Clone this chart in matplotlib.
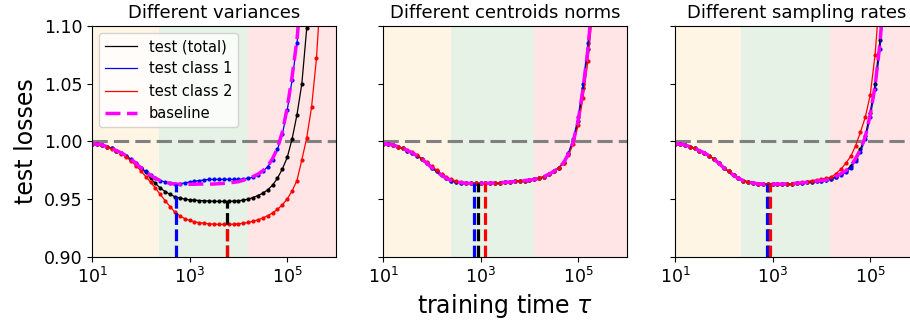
import matplotlib
matplotlib.use('Agg')
import matplotlib.pyplot as plt
import numpy as np

# program variables ------------------>
# log10 of training time grid (0.1 decade steps)
log_tau = [1.0, 1.1, 1.2, 1.3, 1.4, 1.5, 1.6, 1.7, 1.8, 1.9,
           2.0, 2.1, 2.2, 2.3, 2.4, 2.5, 2.6, 2.7, 2.8, 2.9,
           3.0, 3.1, 3.2, 3.3, 3.4, 3.5, 3.6, 3.7, 3.8, 3.9,
           4.0, 4.1, 4.2, 4.3, 4.4, 4.5, 4.6, 4.7, 4.8, 4.9,
           5.0, 5.1, 5.2, 5.3, 5.4, 5.5, 5.6, 5.7, 5.8]

titles = ['Different variances', 'Different centroids norms', 'Different sampling rates']

# shared early descent (log tau 1.0 .. 2.5)
early = [0.998, 0.9975, 0.997, 0.9955, 0.994, 0.992, 0.990, 0.9875, 0.9845, 0.981,
         0.977, 0.974, 0.9705, 0.968, 0.966, 0.9648]

# panel 1: different variances
var_total = [0.998, 0.9975, 0.997, 0.9955, 0.994, 0.992, 0.990, 0.9873, 0.984, 0.9805,
             0.977, 0.9735, 0.968, 0.9635, 0.9595, 0.9565, 0.954, 0.952, 0.9508, 0.950,
             0.9493, 0.949, 0.9487, 0.9485, 0.9483, 0.948, 0.948, 0.948, 0.948, 0.9482,
             0.9485, 0.949, 0.950, 0.9513, 0.953, 0.955, 0.958, 0.962, 0.968, 0.976,
             0.986, 1.002, 1.023, 1.05, 1.098, 1.17]
var_class1 = early + [0.9635, 0.963, 0.9632, 0.964, 0.9647, 0.9655, 0.966, 0.9665, 0.967, 0.967,
                      0.967, 0.967, 0.967, 0.967, 0.967, 0.9675, 0.968, 0.969, 0.971, 0.974,
                      0.978, 0.984, 0.993, 1.006, 1.027, 1.053, 1.085, 1.13]
var_class2 = [0.998, 0.9973, 0.9965, 0.995, 0.9935, 0.9915, 0.9893, 0.9865, 0.983, 0.979,
              0.9745, 0.9695, 0.9645, 0.9595, 0.954, 0.9485, 0.9435, 0.9385, 0.9355, 0.933,
              0.9315, 0.9303, 0.9295, 0.929, 0.9285, 0.9282, 0.928, 0.928, 0.928, 0.9282,
              0.9285, 0.929, 0.9297, 0.9307, 0.932, 0.9335, 0.9355, 0.938, 0.941, 0.945,
              0.950, 0.957, 0.966, 0.984, 1.003, 1.03, 1.072, 1.14]
var_baseline = early + [0.9635, 0.963, 0.9628, 0.9628, 0.9628, 0.9628, 0.963, 0.963, 0.963, 0.963,
                        0.9633, 0.9636, 0.964, 0.9645, 0.965, 0.9663, 0.968, 0.9695, 0.9715, 0.9745,
                        0.9785, 0.985, 0.994, 1.008, 1.029, 1.056, 1.088, 1.135]

# panel 2: different centroids norms
norm_total = early + [0.9642, 0.9637, 0.9635, 0.9635, 0.9635, 0.9636, 0.9638, 0.964, 0.9642, 0.9645,
                      0.9648, 0.9652, 0.9656, 0.966, 0.9665, 0.967, 0.968, 0.9695, 0.9715, 0.974,
                      0.977, 0.9815, 0.989, 1.0, 1.018, 1.046, 1.08, 1.13]
norm_class1 = early + [0.9642, 0.9637, 0.9635, 0.9635, 0.9635, 0.9636, 0.9638, 0.964, 0.9642, 0.9645,
                       0.9648, 0.9652, 0.9656, 0.966, 0.9665, 0.967, 0.968, 0.9695, 0.9715, 0.974,
                       0.977, 0.982, 0.990, 1.002, 1.021, 1.05, 1.085, 1.14]
norm_class2 = [0.998, 0.9975, 0.997, 0.9955, 0.994, 0.9922, 0.9905, 0.988, 0.985, 0.9818,
               0.9785, 0.975, 0.9715, 0.969, 0.967, 0.9655, 0.9645, 0.964, 0.9637, 0.9636,
               0.9635, 0.9635, 0.9638, 0.964, 0.9642, 0.9645, 0.9648, 0.9652, 0.9656, 0.966,
               0.9665, 0.967, 0.968, 0.9695, 0.9715, 0.974, 0.9768, 0.981, 0.988, 0.998,
               1.014, 1.038, 1.07, 1.115, 1.18]
norm_baseline = early + [0.9642, 0.9637, 0.9635, 0.9635, 0.9635, 0.9636, 0.9638, 0.964, 0.9642, 0.9645,
                         0.9648, 0.9652, 0.9656, 0.966, 0.9665, 0.967, 0.968, 0.9695, 0.9715, 0.974,
                         0.977, 0.9815, 0.989, 1.0, 1.018, 1.046, 1.08, 1.13]

# panel 3: different sampling rates
rate_total = early + [0.9638, 0.9633, 0.963, 0.963, 0.963, 0.963, 0.963, 0.9632, 0.9634, 0.9637,
                      0.964, 0.9645, 0.965, 0.9655, 0.966, 0.9665, 0.9675, 0.9695, 0.972, 0.9745,
                      0.9785, 0.985, 0.993, 1.005, 1.025, 1.05, 1.088, 1.14]
rate_class1 = early + [0.9638, 0.9633, 0.963, 0.963, 0.963, 0.963, 0.963, 0.9632, 0.9634, 0.9637,
                       0.964, 0.9645, 0.965, 0.9655, 0.966, 0.9665, 0.967, 0.969, 0.971, 0.973,
                       0.977, 0.983, 0.991, 1.002, 1.021, 1.045, 1.08, 1.13]
rate_class2 = early + [0.9638, 0.9633, 0.963, 0.963, 0.963, 0.963, 0.963, 0.9632, 0.9634, 0.9637,
                       0.9645, 0.965, 0.966, 0.9665, 0.9675, 0.968, 0.969, 0.972, 0.976, 0.981,
                       0.987, 0.996, 1.008, 1.021, 1.04, 1.075, 1.13]
rate_baseline = early + [0.9638, 0.9633, 0.963, 0.963, 0.963, 0.963, 0.963, 0.9632, 0.9634, 0.9637,
                         0.964, 0.9645, 0.965, 0.9655, 0.966, 0.9665, 0.9675, 0.9695, 0.972, 0.9745,
                         0.9785, 0.985, 0.993, 1.004, 1.023, 1.048, 1.085, 1.14]

# optimal stopping times (log10 tau) and minimal losses: total, class 1, class 2
var_stop = [3.76, 2.73, 3.76]
var_min = [0.948, 0.963, 0.928]
norm_stop = [2.95, 2.86, 3.10]
norm_min = [0.9635, 0.9635, 0.9635]
rate_stop = [2.90, 2.88, 2.94]
rate_min = [0.963, 0.963, 0.963]

# training phase boundaries (log10 tau)
phase_edges = [[2.38, 4.20], [2.40, 4.09], [2.36, 4.18]]

panels = [
    (var_total, var_class1, var_class2, var_baseline, var_stop, var_min),
    (norm_total, norm_class1, norm_class2, norm_baseline, norm_stop, norm_min),
    (rate_total, rate_class1, rate_class2, rate_baseline, rate_stop, rate_min),
]

# program execution ------------------>
tau = 10 ** np.array(log_tau)
fig = plt.figure(figsize=(9.1, 3.27), dpi=100)
W, H = 910, 327
lefts = [92, 383, 675]
axes = []
for l in lefts:
    ax = fig.add_axes([l / W, 1 - 256.7 / H, 244 / W, 230.7 / H],
                      sharey=axes[0] if axes else None)
    axes.append(ax)

colors = ['black', 'blue', 'red']
labels = ['test (total)', 'test class 1', 'test class 2']

for i, ax in enumerate(axes):
    total, c1, c2, base, stop, mins = panels[i]
    e0, e1 = phase_edges[i]
    # shaded phases
    ax.axvspan(10, 10 ** e0, color='orange', alpha=0.1, lw=0)
    ax.axvspan(10 ** e0, 10 ** e1, color='green', alpha=0.1, lw=0)
    ax.axvspan(10 ** e1, 1e6, color='red', alpha=0.1, lw=0)
    ax.axhline(1.0, color='gray', ls=(0, (5, 2)), lw=2.2)
    # curves with points
    for y, c, lab in zip([total, c1, c2], colors, labels):
        ax.plot(tau[:len(y)], y, color=c, lw=0.9, label=lab)
        ax.plot(tau[:len(y)], y, 'o', color=c, ms=2)
    ax.plot(tau[:len(base)], base, color='magenta', ls=(0, (4.3, 1.9)), lw=2.5, label='baseline')
    # optimal stopping lines
    for s, m, c in zip(stop, mins, colors):
        ax.vlines(10 ** s, 0.9, m, color=c, ls=(0, (3.7, 1.4)), lw=2.3)
    ax.set_xscale('log')
    ax.set_xlim(10, 1e6)
    ax.set_ylim(0.9, 1.1)
    ax.set_xticks([1e1, 1e3, 1e5])
    ax.xaxis.set_minor_locator(matplotlib.ticker.NullLocator())
    ax.set_title(titles[i], fontsize=13)
    ax.tick_params(labelsize=12.5)
    if i > 0:
        ax.tick_params(labelleft=False)

axes[0].set_yticks([0.90, 0.95, 1.00, 1.05, 1.10])
axes[0].set_ylabel('test losses', fontsize=17)
axes[1].set_xlabel(r'training time $\tau$', fontsize=17)
axes[0].legend(loc='upper left', fontsize=10.5, handlelength=2.2)

plt.savefig('out.png', dpi=100)
